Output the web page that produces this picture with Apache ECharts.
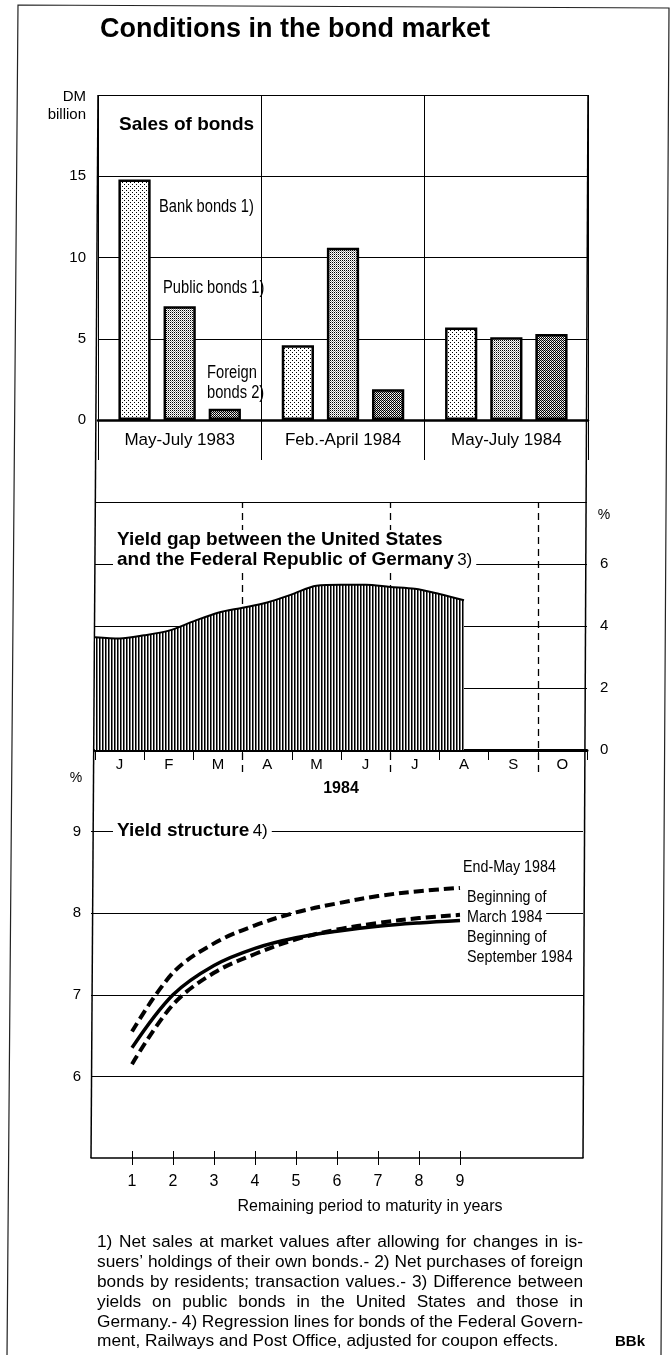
<!DOCTYPE html>
<html>
<head>
<meta charset="utf-8">
<title>Conditions in the bond market</title>
<script src="https://cdn.jsdelivr.net/npm/echarts@6/dist/echarts.min.js"></script>
<style>
  html, body { margin: 0; padding: 0; background: #fff; }
  #chart { width: 672px; height: 1355px; }
</style>
</head>
<body>
<div id="chart"></div>
<script>
// ---- data ----
var periods = ['May-July 1983', 'Feb.-April 1984', 'May-July 1984'];
var bankBonds = [14.8, 4.6, 5.7];
var publicBonds = [7.0, 10.6, 5.1];
var foreignBonds = [0.7, 1.9, 5.3];

var months = ['J', 'F', 'M', 'A', 'M', 'J', 'J', 'A', 'S', 'O'];
// yield gap, semi-monthly (position in months from start of January)
var gapMonth = [0, 0.5, 1, 1.5, 2, 2.5, 3, 3.5, 4, 4.5, 5, 5.5, 6, 6.5, 7, 7.5];
var gapValue = [3.64, 3.60, 3.70, 3.85, 4.15, 4.43, 4.59, 4.76, 5.02, 5.30, 5.33, 5.33, 5.26, 5.20, 5.03, 4.83];
var quarterEnds = [3, 6, 9];

var maturity = [1, 2, 3, 4, 5, 6, 7, 8, 9];
var endMay = [6.55, 7.27, 7.63, 7.85, 8.01, 8.12, 8.21, 8.27, 8.31];
var beginMarch = [6.15, 6.88, 7.27, 7.50, 7.68, 7.80, 7.88, 7.94, 7.98];
var beginSept = [6.35, 7.00, 7.36, 7.57, 7.70, 7.78, 7.84, 7.88, 7.91];
var yieldGrid = [6, 7, 9];

var footnotes = [
  '1) Net sales at market values after allowing for changes in is-',
  'suers\u2019 holdings of their own bonds.- 2) Net purchases of foreign',
  'bonds by residents; transaction values.- 3) Difference between',
  'yields on public bonds in the United States and those in',
  'Germany.- 4) Regression lines for bonds of the Federal Govern-',
  'ment, Railways and Post Office, adjusted for coupon effects.'
];

var FONT = '"Liberation Sans", Arial, sans-serif';
var SQUEEZE = 0.84; // condensed look for the small chart labels

// ---- fill patterns (stipple for bars, vertical hatch for area) ----
function pattern(w, h, draw) {
  var c = document.createElement('canvas');
  c.width = w; c.height = h;
  var g = c.getContext('2d');
  g.fillStyle = '#fff';
  g.fillRect(0, 0, w, h);
  g.fillStyle = '#000';
  draw(g);
  return { image: c, repeat: 'repeat' };
}
var dotsLight = pattern(4, 4, function (g) { g.fillRect(0, 0, 1, 1); g.fillRect(2, 2, 1, 1); });
var dotsMedium = pattern(2, 2, function (g) { g.fillRect(0, 0, 1, 1); g.fillStyle = '#999'; g.fillRect(1, 1, 1, 1); });
var dotsDark = pattern(2, 2, function (g) { g.fillRect(0, 0, 1, 1); g.fillRect(1, 1, 1, 1); g.fillStyle = '#bbb'; g.fillRect(1, 0, 1, 1); });
var hatch = pattern(3, 1, function (g) { g.fillRect(0, 0, 1, 1); g.fillStyle = '#777'; g.fillRect(1, 0, 1, 1); });

var black = { color: '#000', width: 1 };

function bar(name, data, fill) {
  return {
    name: name, type: 'bar', xAxisIndex: 0, yAxisIndex: 0,
    data: data, barGap: '40%', barCategoryGap: '25%',
    itemStyle: { color: fill, borderColor: '#000', borderWidth: 2.5 },
    silent: true
  };
}

function curve(data, width, type) {
  return {
    type: 'line', xAxisIndex: 4, yAxisIndex: 3, smooth: 0.35,
    symbol: 'none', silent: true,
    data: maturity.map(function (m, i) { return [m, data[i]]; }),
    lineStyle: { color: '#000', width: width, type: type, cap: 'butt' },
    z: 4
  };
}

// narrow label, drawn squeezed horizontally
function narrow(x, y, text, size) {
  return { type: 'text', x: x, y: y, scaleX: SQUEEZE,
    style: { text: text, font: size + 'px ' + FONT, lineHeight: 20, fill: '#000', verticalAlign: 'middle' } };
}

// ---- annotations ----
var graphics = [
  // page frame
  { type: 'polyline', shape: { points: [[7, 1355], [18, 5], [669, 8], [661, 1355]] }, style: { stroke: '#222', lineWidth: 1.2, fill: null } },
  // panel sides
  { type: 'line', shape: { x1: 98, y1: 95, x2: 91, y2: 1158 }, style: { stroke: '#000', lineWidth: 1.5 } },
  { type: 'line', shape: { x1: 588, y1: 95, x2: 583, y2: 1158 }, style: { stroke: '#000', lineWidth: 1.5 } },
  { type: 'text', x: 100, y: 30, style: { text: 'Conditions in the bond market', font: 'bold 27px ' + FONT, fill: '#000', verticalAlign: 'middle' } },
  { type: 'text', x: 86, y: 97, style: { text: 'DM', font: '15px ' + FONT, fill: '#000', align: 'right', verticalAlign: 'middle' } },
  { type: 'text', x: 86, y: 115, style: { text: 'billion', font: '15px ' + FONT, fill: '#000', align: 'right', verticalAlign: 'middle' } },
  { type: 'text', x: 119, y: 125, style: { text: 'Sales of bonds', font: 'bold 19px ' + FONT, fill: '#000', verticalAlign: 'middle' } },
  narrow(159, 207, 'Bank bonds 1)', 17.5),
  narrow(163, 288, 'Public bonds 1)', 17.5),
  narrow(207, 383, 'Foreign\nbonds 2)', 17.5),
  { type: 'text', x: 113, y: 550, z: 50, style: {
      text: '{b|Yield gap between the United States}\n{b|and the Federal Republic of Germany} {r|3)}',
      rich: { b: { font: 'bold 19px ' + FONT, lineHeight: 20 }, r: { font: '17px ' + FONT, lineHeight: 20 } },
      fill: '#000', backgroundColor: '#fff', padding: [0, 4], verticalAlign: 'middle' } },
  { type: 'text', x: 604, y: 515, style: { text: '%', font: '14px ' + FONT, fill: '#000', align: 'center', verticalAlign: 'middle' } },
  { type: 'text', x: 76, y: 778, style: { text: '%', font: '14px ' + FONT, fill: '#000', align: 'center', verticalAlign: 'middle' } },
  { type: 'text', x: 113, y: 831, z: 50, style: {
      text: '{b|Yield structure} {r|4)}',
      rich: { b: { font: 'bold 19px ' + FONT }, r: { font: '17px ' + FONT } },
      fill: '#000', backgroundColor: '#fff', padding: [2, 4], verticalAlign: 'middle' } },
  narrow(463, 867, 'End-May 1984', 17),
  narrow(467, 907, 'Beginning of\nMarch 1984', 17),
  narrow(467, 947, 'Beginning of\nSeptember 1984', 17),
  { type: 'text', x: 370, y: 1207, style: { text: 'Remaining period to maturity in years', font: '16px ' + FONT, fill: '#000', align: 'center', verticalAlign: 'middle' } },
  { type: 'text', x: 615, y: 1342, style: { text: 'BBk', font: 'bold 15px ' + FONT, fill: '#000', verticalAlign: 'middle' } }
];

// footnotes, justified word by word (last line left aligned)
(function () {
  var font = '16px ' + FONT;
  var widen = 1.08; // the printed face runs a little wider than Liberation Sans
  var ctx = document.createElement('canvas').getContext('2d');
  ctx.font = font;
  var left = 97, right = 583;
  footnotes.forEach(function (line, i) {
    var words = line.split(' ');
    var widths = words.map(function (w) { return ctx.measureText(w).width; });
    var total = widths.reduce(function (a, b) { return a + b; }, 0);
    var sx = widen;
    var space = ctx.measureText(' ').width * widen;
    var gap = (i < footnotes.length - 1) ? (right - left - total * sx) / (words.length - 1) : space;
    if (gap < 2.5) { // squeeze the words a little when the line is too long
      sx = (right - left - 2.5 * (words.length - 1)) / total;
      gap = 2.5;
    }
    var x = left;
    words.forEach(function (w, j) {
      graphics.push({ type: 'text', x: x, y: 1243 + i * 19.8, scaleX: sx, style: { text: w, font: font, fill: '#000', verticalAlign: 'middle' } });
      x += widths[j] * sx + gap;
    });
  });
})();

var chart = echarts.init(document.getElementById('chart'), null, { renderer: 'canvas' });

var option = {
  animation: false,
  backgroundColor: '#fff',
  textStyle: { fontFamily: FONT, color: '#000' },
  grid: [
    { left: 98, top: 95, width: 490, height: 325, outerBoundsMode: 'none', containLabel: false },
    { left: 95, top: 502, width: 492, height: 248, outerBoundsMode: 'none', containLabel: false },
    { left: 95, top: 502, width: 492, height: 270, outerBoundsMode: 'none', containLabel: false },
    { left: 91, top: 750, width: 492, height: 408, outerBoundsMode: 'none', containLabel: false }
  ],
  xAxis: [
    { gridIndex: 0, type: 'category', data: periods,
      axisLine: { lineStyle: { color: '#000', width: 2.5 } },
      axisTick: { show: true, length: 40, lineStyle: black },
      axisLabel: { color: '#000', fontSize: 17, margin: 12 },
      splitLine: { show: true, lineStyle: black } },
    { gridIndex: 1, type: 'category', data: months,
      name: '1984', nameLocation: 'middle', nameGap: 31,
      nameTextStyle: { fontWeight: 'bold', fontSize: 16, color: '#000' },
      axisLine: { lineStyle: { color: '#000', width: 3 } },
      axisTick: { show: true, length: 10, lineStyle: black },
      axisLabel: { color: '#000', fontSize: 15, margin: 7 } },
    { gridIndex: 1, type: 'value', min: 0, max: 10, show: false },
    { gridIndex: 2, type: 'value', min: 0, max: 10, show: false },
    { gridIndex: 3, type: 'value', min: 0, max: 12,
      axisLine: { lineStyle: { color: '#000', width: 1.5 } },
      axisTick: { show: true, length: 7, lineStyle: black, customValues: maturity },
      axisLabel: { color: '#000', fontSize: 16, margin: 16, customValues: maturity },
      splitLine: { show: false } },
    { gridIndex: 3, type: 'value', min: 0, max: 12, position: 'bottom',
      axisLine: { show: false },
      axisTick: { show: true, inside: true, length: 7, lineStyle: black, customValues: maturity },
      axisLabel: { show: false },
      splitLine: { show: false } }
  ],
  yAxis: [
    { gridIndex: 0, type: 'value', min: 0, max: 20, interval: 5,
      axisLine: { show: false }, axisTick: { show: false },
      axisLabel: { color: '#000', fontSize: 15, margin: 12, showMaxLabel: false },
      splitLine: { lineStyle: black } },
    { gridIndex: 1, type: 'value', min: 0, max: 8, interval: 2, position: 'right',
      axisLine: { show: false }, axisTick: { show: false },
      axisLabel: { color: '#000', fontSize: 15, margin: 13, showMaxLabel: false },
      splitLine: { lineStyle: black } },
    { gridIndex: 2, type: 'value', min: 0, max: 1, show: false },
    { gridIndex: 3, type: 'value', min: 5, max: 10, interval: 1,
      axisLine: { show: false }, axisTick: { show: false },
      axisLabel: { color: '#000', fontSize: 15, margin: 10, showMinLabel: false, showMaxLabel: false },
      splitLine: { show: false } }
  ],
  series: [
    bar('Bank bonds', bankBonds, dotsLight),
    bar('Public bonds', publicBonds, dotsMedium),
    bar('Foreign bonds', foreignBonds, dotsDark),
    // yield gap area
    { type: 'line', xAxisIndex: 2, yAxisIndex: 1, smooth: 0.3, symbol: 'none', silent: true,
      data: gapMonth.map(function (m, i) { return [m, gapValue[i]]; }),
      lineStyle: { color: '#000', width: 2 },
      areaStyle: { color: hatch, opacity: 1 },
      z: 3 },
    // dashed quarter ends, kept under the hatched area
    { type: 'line', xAxisIndex: 3, yAxisIndex: 2, data: [], silent: true, z: 1,
      markLine: { silent: true, z: 1, symbol: ['none', 'none'], label: { show: false },
        lineStyle: { color: '#000', width: 1.3, type: [7, 5] },
        data: quarterEnds.map(function (q) { return { xAxis: q }; }) } },
    // yield structure grid lines (8 is broken for the curves and labels)
    { type: 'line', xAxisIndex: 4, yAxisIndex: 3, data: [], silent: true, z: 1,
      markLine: { silent: true, z: 1, symbol: ['none', 'none'], label: { show: false },
        lineStyle: { color: '#000', width: 1, type: 'solid' },
        data: yieldGrid.map(function (v) { return [{ coord: [0, v] }, { coord: [12, v] }]; })
          .concat([[{ coord: [0, 8] }, { coord: [4.9, 8] }], [{ coord: [11.1, 8] }, { coord: [12, 8] }]]) } },
    curve(endMay, 4, [10, 5]),
    curve(beginSept, 3.5, 'solid'),
    curve(beginMarch, 4, [10, 5])
  ],
  graphic: { elements: graphics }
};

chart.setOption(option);
</script>
</body>
</html>
